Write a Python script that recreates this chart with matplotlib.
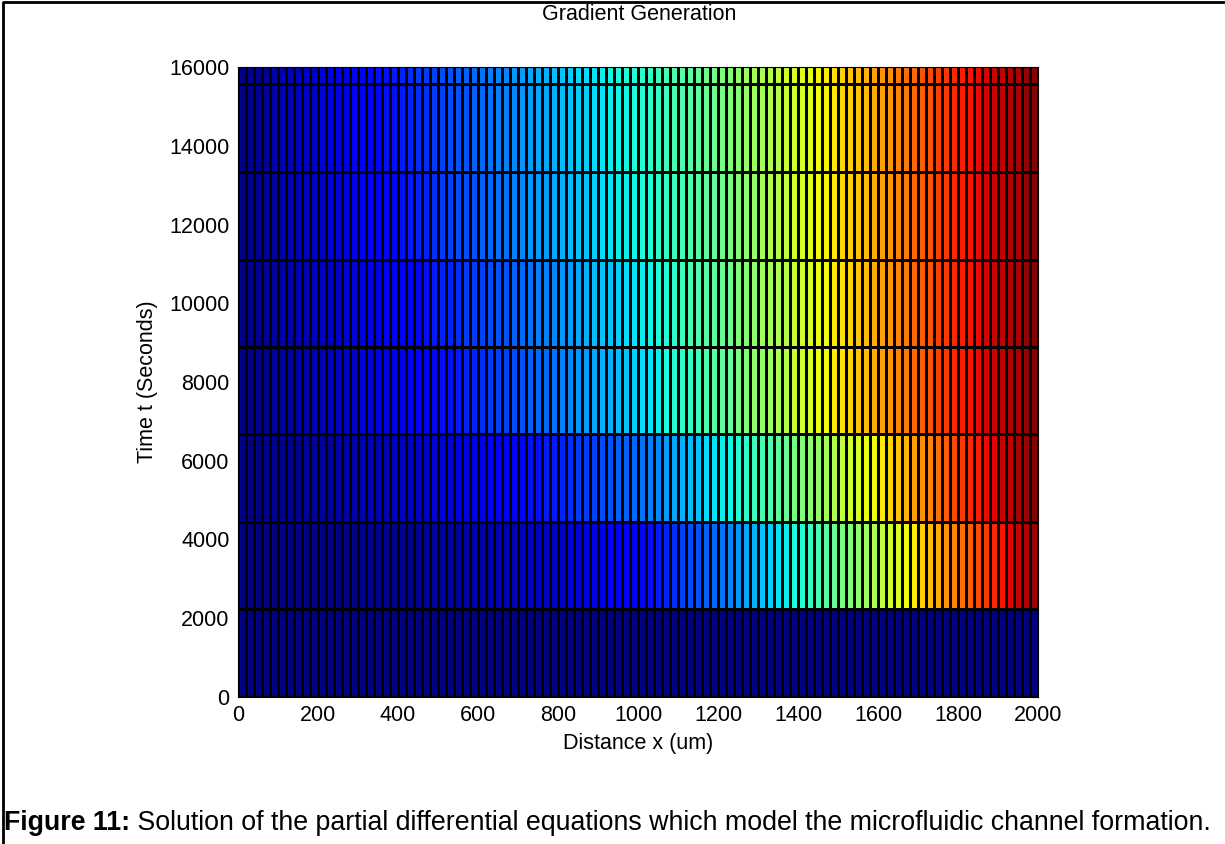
import numpy as np
import matplotlib
matplotlib.use('Agg')
import matplotlib.pyplot as plt
from matplotlib.lines import Line2D

plt.rcParams['font.family'] = ['Liberation Sans', 'DejaVu Sans']

# grid edges
x_edges = np.arange(0, 2001, 20)  # distance (um), 101 edges -> 100 cells
t_edges = [0, 2222, 4444, 6667, 8889, 11111, 13333, 15556, 17778]  # time (s)

# concentration per cell, one list per time row
c_t0 = [0.0] * 100
c_t2222 = [.00, .00, .00, .00, .00, .01, .01, .01, .01, .01,
           .01, .01, .01, .01, .01, .02, .02, .02, .02, .02,
           .02, .02, .02, .03, .03, .03, .03, .03, .04, .04,
           .04, .04, .05, .05, .05, .06, .06, .06, .06, .07,
           .07, .08, .08, .09, .09, .10, .11, .11, .12, .12,
           .13, .14, .15, .16, .17, .19, .20, .21, .22, .23,
           .24, .26, .27, .29, .30, .32, .33, .35, .36, .38,
           .39, .41, .43, .45, .47, .49, .50, .52, .54, .56,
           .58, .60, .62, .64, .66, .69, .71, .73, .75, .77,
           .79, .81, .83, .85, .87, .89, .91, .93, .95, .97]
c_t4444 = [.01, .01, .01, .02, .02, .02, .02, .02, .03, .03,
           .03, .03, .04, .04, .04, .05, .05, .05, .05, .06,
           .06, .06, .07, .07, .08, .08, .08, .09, .09, .10,
           .10, .11, .11, .12, .12, .13, .14, .14, .15, .15,
           .16, .17, .18, .18, .19, .20, .21, .22, .22, .23,
           .24, .25, .26, .28, .29, .30, .31, .32, .34, .35,
           .36, .37, .39, .40, .42, .43, .44, .46, .47, .49,
           .50, .52, .53, .55, .56, .58, .60, .61, .63, .64,
           .66, .68, .70, .72, .74, .76, .77, .79, .81, .83,
           .85, .87, .88, .90, .91, .93, .94, .96, .97, .99]
c_t6667 = [.01, .01, .02, .02, .03, .03, .03, .04, .04, .05,
           .05, .06, .06, .07, .07, .08, .08, .09, .09, .10,
           .10, .11, .11, .12, .13, .14, .14, .15, .16, .16,
           .17, .18, .19, .19, .20, .21, .22, .23, .23, .24,
           .25, .26, .27, .28, .29, .30, .30, .31, .32, .33,
           .34, .35, .36, .38, .39, .40, .41, .42, .44, .45,
           .46, .47, .49, .50, .52, .53, .54, .56, .57, .59,
           .60, .61, .63, .64, .66, .67, .68, .70, .71, .73,
           .74, .75, .77, .78, .80, .81, .82, .84, .85, .87,
           .88, .89, .90, .92, .93, .94, .95, .96, .98, .99]
c_t8889 = [.01, .02, .02, .03, .03, .04, .04, .05, .05, .06,
           .06, .07, .07, .08, .08, .09, .10, .10, .11, .11,
           .12, .13, .13, .14, .15, .16, .16, .17, .18, .18,
           .19, .20, .21, .21, .22, .23, .24, .25, .25, .26,
           .27, .28, .29, .30, .31, .32, .32, .33, .34, .35,
           .36, .37, .38, .39, .40, .42, .43, .44, .45, .46,
           .47, .48, .50, .51, .52, .54, .55, .56, .57, .59,
           .60, .61, .63, .64, .66, .67, .68, .70, .71, .73,
           .74, .75, .77, .78, .80, .81, .82, .84, .85, .87,
           .88, .89, .90, .92, .93, .94, .95, .96, .98, .99]
c_t11111 = [.01, .02, .02, .03, .03, .04, .05, .05, .06, .06,
            .07, .08, .08, .09, .10, .11, .11, .12, .13, .13,
            .14, .15, .16, .16, .17, .18, .19, .20, .20, .21,
            .22, .23, .24, .24, .25, .26, .27, .28, .28, .29,
            .30, .31, .32, .32, .33, .34, .35, .36, .36, .37,
            .38, .39, .40, .41, .42, .43, .44, .45, .46, .47,
            .48, .49, .51, .52, .53, .55, .56, .57, .58, .60,
            .61, .62, .64, .65, .66, .68, .69, .70, .71, .73,
            .74, .75, .77, .78, .80, .81, .82, .84, .85, .87,
            .88, .89, .90, .92, .93, .94, .95, .96, .98, .99]
c_t13333 = [.01, .02, .02, .03, .04, .05, .05, .06, .07, .07,
            .08, .09, .09, .10, .11, .12, .12, .13, .14, .14,
            .15, .16, .17, .17, .18, .19, .20, .21, .21, .22,
            .23, .24, .25, .25, .26, .27, .28, .29, .29, .30,
            .31, .32, .33, .33, .34, .35, .36, .37, .37, .38,
            .39, .40, .41, .42, .43, .44, .45, .46, .47, .48,
            .49, .50, .51, .53, .54, .55, .56, .57, .59, .60,
            .61, .62, .64, .65, .66, .68, .69, .70, .71, .73,
            .74, .75, .77, .78, .80, .81, .82, .84, .85, .87,
            .88, .89, .90, .92, .93, .94, .95, .96, .98, .99]
c_t15556 = [.01, .02, .02, .03, .04, .05, .05, .06, .07, .07,
            .08, .09, .10, .10, .11, .12, .13, .14, .14, .15,
            .16, .17, .18, .18, .19, .20, .21, .22, .22, .23,
            .24, .25, .26, .26, .27, .28, .29, .30, .30, .31,
            .32, .33, .34, .34, .35, .36, .37, .38, .38, .39,
            .40, .41, .42, .43, .44, .45, .46, .47, .48, .49,
            .50, .51, .52, .54, .55, .56, .57, .58, .60, .61,
            .62, .63, .65, .66, .67, .69, .70, .71, .72, .74,
            .75, .76, .78, .79, .80, .82, .83, .84, .85, .87,
            .88, .89, .90, .92, .93, .94, .95, .96, .98, .99]

C = np.array([c_t0, c_t2222, c_t4444, c_t6667, c_t8889,
              c_t11111, c_t13333, c_t15556])

x_ticks = list(range(0, 2001, 200))
t_ticks = list(range(0, 16001, 2000))

fig = plt.figure(figsize=(12.25, 8.44), dpi=100)
ax = fig.add_axes([0.1943, 0.1742, 0.6531, 0.7464])

ax.pcolormesh(x_edges, t_edges, C, cmap='jet', vmin=0, vmax=1,
              edgecolors='k', linewidth=0.9)
ax.set_xlim(0, 2000)
ax.set_ylim(0, 16000)
ax.set_xticks(x_ticks)
ax.set_yticks(t_ticks)
ax.tick_params(direction='in', labelsize=15.5, length=0, pad=6)

ax.set_xlabel('Distance x (um)', fontsize=15.5, labelpad=5)
ax.set_ylabel('Time t (Seconds)', fontsize=15.5, labelpad=8)

# title sits well above the axes in the original
fig.text(0.522, 0.983, 'Gradient Generation', fontsize=15.5,
         ha='center', va='center')

# figure frame (left and top edges)
fig.add_artist(Line2D([0.0025, 0.0025, 1.0], [0.0, 0.9975, 0.9975],
                      transform=fig.transFigure, color='k', lw=2))

# caption
t1 = fig.text(0.003, 0.017, 'Figure 11:', fontsize=19.3, fontweight='bold',
              ha='left', va='baseline')
ax.annotate(' Solution of the partial differential equations which model the microfluidic channel formation.',
            xy=(1, 0), xycoords=t1, fontsize=19.3, ha='left', va='bottom',
            annotation_clip=False)

fig.savefig('out.png', dpi=100)
